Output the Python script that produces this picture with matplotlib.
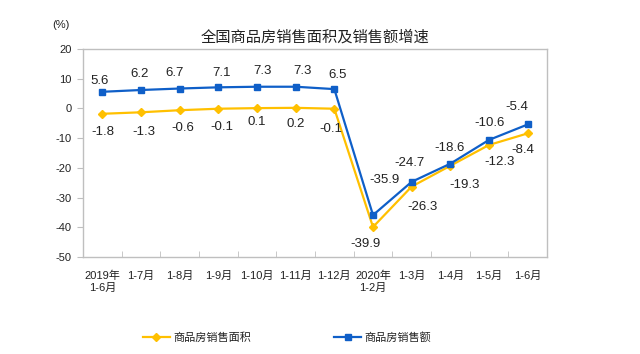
import matplotlib.pyplot as plt
from matplotlib.lines import Line2D
import numpy as np

plt.rcParams['font.family'] = ['Liberation Sans', 'Noto Sans CJK SC', 'DejaVu Sans']
plt.rcParams['axes.unicode_minus'] = False

# data
months = ['2019年\n1-6月', '1-7月', '1-8月', '1-9月', '1-10月', '1-11月', '1-12月',
          '2020年\n1-2月', '1-3月', '1-4月', '1-5月', '1-6月']
area = [-1.8, -1.3, -0.6, -0.1, 0.1, 0.2, -0.1, -39.9, -26.3, -19.3, -12.3, -8.4]
sales = [5.6, 6.2, 6.7, 7.1, 7.3, 7.3, 6.5, -35.9, -24.7, -18.6, -10.6, -5.4]

# label offsets in pixels (layout only)
sales_off = [(-3, 11), (-1, 16), (-5, 16), (3, 14), (5, 16), (7, 16), (3, 14),
             (12, 35), (-2, 19), (-1, 16), (1, 17), (-11, 17)]
area_off = [(1, -18), (3, -20), (3, -18), (4, -18), (0, -14), (0, -16), (-3, -20),
            (-7, -17), (11, -20), (14, -19), (11, -17), (-5, -17)]

blue = '#0F5FC8'
yellow = '#FFC000'

fig = plt.figure(figsize=(6.4, 3.54), dpi=100)
ax = fig.add_axes([83/640, 1-257/354, (547-83)/640, (257-49)/354])

x = np.arange(len(months))
ax.plot(x, area, color=yellow, lw=1.6, marker='D', ms=4.2, label='商品房销售面积')
ax.plot(x, sales, color=blue, lw=1.6, marker='s', ms=4.5, label='商品房销售额')

for i in range(len(x)):
    ax.annotate(f'{sales[i]}', (x[i], sales[i]), xytext=sales_off[i],
                textcoords='offset pixels', ha='center', va='center',
                fontsize=9.5, color='#222222')
    ax.annotate(f'{area[i]}', (x[i], area[i]), xytext=area_off[i],
                textcoords='offset pixels', ha='center', va='center',
                fontsize=9.5, color='#222222')

ax.set_xlim(-0.5, len(months) - 0.5)
ax.set_ylim(-50, 20)
ax.set_yticks(range(-50, 21, 10))
ax.tick_params(axis='y', direction='out', length=4, color='#BFBFBF',
               labelsize=8, labelcolor='#222222', pad=4)
ax.set_xticks(x)
ax.set_xticklabels(months, fontsize=8, color='#222222', va='top')
ax.tick_params(axis='x', which='major', length=0, pad=10)
ax.set_xticks(x[:-1] + 0.5, minor=True)
ax.tick_params(axis='x', which='minor', direction='in', length=4, color='#BFBFBF')
for s in ax.spines.values():
    s.set_color('#BFBFBF')
    s.set_linewidth(1)

fig.text(315/640, 1-37/354, '全国商品房销售面积及销售额增速', ha='center', va='center',
         fontsize=11, color='#222222')
fig.text(61/640, 1-25/354, '(%)', ha='center', va='center', fontsize=8, color='#222222')

handles = [Line2D([], [], color=yellow, lw=1.6, marker='D', ms=4.2),
           Line2D([], [], color=blue, lw=1.6, marker='s', ms=4.5)]
fig.legend(handles, ['商品房销售面积', '商品房销售额'], loc='center',
           bbox_to_anchor=(287/640, 1-338/354), ncol=2, frameon=False,
           fontsize=8, handlelength=2.4, handletextpad=0.3, columnspacing=7.5,
           labelcolor='#222222')

fig.savefig('out.png', dpi=100)
